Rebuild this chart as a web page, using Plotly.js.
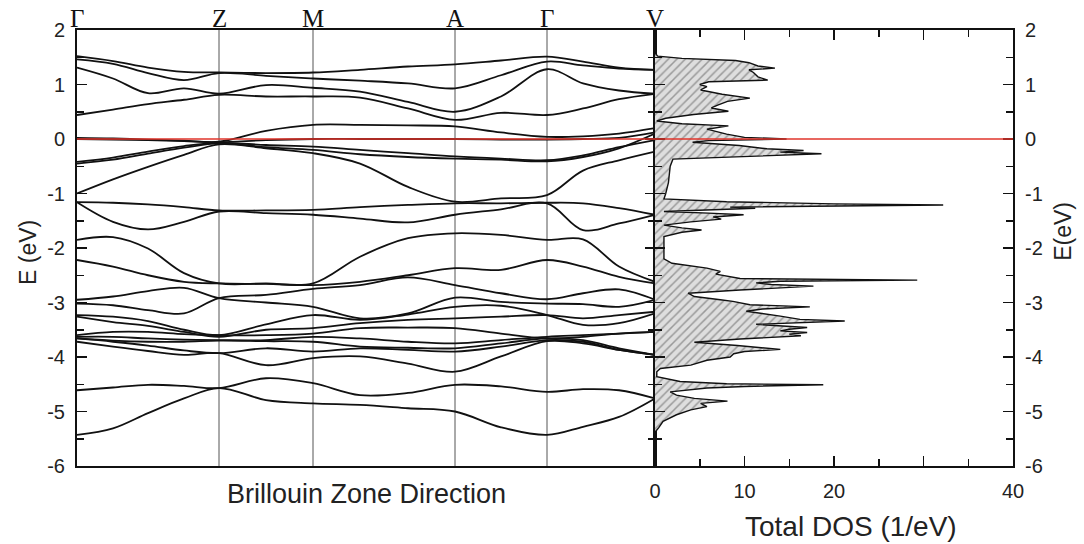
<!DOCTYPE html>
<html><head><meta charset="utf-8">
<script src="https://cdn.plot.ly/plotly-3.0.1.min.js"></script>
<style>html,body{margin:0;padding:0;background:#fff}#chart{width:1084px;height:544px}</style>
</head><body><div id="chart"></div>
<script>
// k-path sample positions (arbitrary k-distance units) and high-symmetry points
const K_PATH = [0, 36, 71, 107, 142, 189, 236, 283, 331, 378, 424, 470, 506, 542, 578];
const K_SYM = [0, 142, 236, 378, 470, 578];
const SYM_LABELS = ['Γ', 'Z', 'M', 'A', 'Γ', 'V'];

// Band energies (eV) read at K_PATH
const band_c1 = [1.52, 1.43, 1.31, 1.23, 1.22, 1.21, 1.22, 1.27, 1.33, 1.37, 1.44, 1.51, 1.42, 1.31, 1.27];
const band_c2 = [1.46, 1.38, 1.21, 1.08, 1.21, 1.16, 1.11, 1.07, 1.02, 0.93, 1.17, 1.42, 1.35, 1.29, 1.27];
const band_c3 = [1.31, 1.11, 0.84, 0.93, 0.83, 0.99, 0.94, 0.87, 0.68, 0.50, 0.78, 1.28, 1.02, 0.89, 0.83];
const band_c4 = [0.44, 0.54, 0.64, 0.72, 0.81, 0.78, 0.78, 0.76, 0.56, 0.35, 0.48, 0.44, 0.56, 0.73, 0.83];
const band_v1 = [0.02, 0.01, -0.01, -0.03, -0.05, 0.15, 0.26, 0.26, 0.25, 0.23, 0.12, 0.04, 0.05, 0.10, 0.20];
const band_v2 = [0.00, -0.01, -0.02, -0.04, -0.06, -0.02, 0.00, 0.00, 0.00, 0.00, -0.01, -0.01, 0.00, 0.02, 0.12];
const band_v3 = [-0.42, -0.34, -0.23, -0.13, -0.07, -0.11, -0.14, -0.20, -0.26, -0.32, -0.36, -0.39, -0.30, -0.15, -0.02];
const band_v4 = [-0.45, -0.38, -0.27, -0.16, -0.08, -0.15, -0.20, -0.28, -0.33, -0.36, -0.38, -0.41, -0.33, -0.17, 0.10];
const band_v5 = [-1.00, -0.74, -0.51, -0.29, -0.10, -0.17, -0.26, -0.45, -0.88, -1.15, -1.09, -1.03, -0.58, -0.39, -0.23];
const band_v6 = [-1.16, -1.17, -1.20, -1.25, -1.31, -1.31, -1.30, -1.25, -1.21, -1.18, -1.18, -1.17, -1.18, -1.27, -1.39];
const band_v7 = [-1.16, -1.52, -1.66, -1.52, -1.33, -1.36, -1.39, -1.46, -1.53, -1.39, -1.29, -1.18, -1.67, -1.55, -1.39];
const band_v8 = [-1.85, -1.80, -2.01, -2.46, -2.65, -2.65, -2.65, -2.16, -1.82, -1.73, -1.76, -1.85, -1.84, -2.34, -2.62];
const band_v9 = [-2.22, -2.34, -2.50, -2.62, -2.65, -2.66, -2.68, -2.62, -2.50, -2.37, -2.40, -2.22, -2.34, -2.53, -2.65];
const band_la = [-2.95, -2.89, -2.79, -2.73, -2.92, -3.00, -3.08, -3.29, -3.20, -2.91, -2.99, -3.02, -3.03, -3.08, -2.95];
const band_lb = [-3.02, -3.05, -3.14, -3.20, -2.92, -2.86, -2.75, -2.68, -2.54, -2.68, -2.83, -2.94, -2.83, -2.76, -2.95];
const band_l3 = [-3.23, -3.26, -3.34, -3.50, -3.60, -3.40, -3.23, -3.32, -3.22, -3.08, -3.06, -3.23, -3.41, -3.38, -3.20];
const band_l4 = [-3.26, -3.36, -3.43, -3.54, -3.63, -3.50, -3.47, -3.38, -3.32, -3.29, -3.26, -3.23, -3.29, -3.23, -3.17];
const band_l5 = [-3.60, -3.54, -3.54, -3.58, -3.60, -3.60, -3.57, -3.47, -3.46, -3.47, -3.57, -3.66, -3.63, -3.57, -3.54];
const band_l6 = [-3.63, -3.63, -3.66, -3.68, -3.69, -3.69, -3.63, -3.66, -3.72, -3.75, -3.69, -3.63, -3.60, -3.57, -3.54];
const band_lg = [-3.66, -3.70, -3.72, -3.72, -3.70, -3.71, -3.72, -3.81, -3.83, -3.84, -3.75, -3.66, -3.69, -3.84, -3.96];
const band_l7 = [-3.66, -3.72, -3.79, -3.88, -3.93, -3.84, -3.90, -3.84, -3.87, -3.90, -3.81, -3.69, -3.72, -3.87, -3.96];
const band_l8 = [-3.72, -3.81, -3.89, -3.96, -3.93, -4.15, -4.02, -3.99, -4.12, -4.27, -3.99, -3.71, -3.75, -3.87, -3.96];
const band_p1 = [-4.61, -4.56, -4.51, -4.53, -4.57, -4.39, -4.48, -4.70, -4.66, -4.51, -4.54, -4.64, -4.59, -4.61, -4.76];
const band_p2 = [-5.43, -5.31, -5.03, -4.76, -4.57, -4.79, -4.85, -4.88, -4.94, -5.00, -5.29, -5.43, -5.28, -5.10, -4.76];

const BANDS = [band_c1, band_c2, band_c3, band_c4, band_v1, band_v2, band_v3, band_v4, band_v5,
  band_v6, band_v7, band_v8, band_v9, band_la, band_lb, band_l3, band_l4, band_l5, band_l6,
  band_lg, band_l7, band_l8, band_p1, band_p2];

// Total DOS (1/eV) vs energy (eV)
const DOS_E = [
  1.58, 1.52, 1.48, 1.44, 1.40, 1.34, 1.30, 1.27, 1.22, 1.14,
  1.08, 1.05, 1.00, 0.96, 0.90, 0.82, 0.75, 0.69, 0.62, 0.57,
  0.51, 0.45, 0.38, 0.33, 0.28, 0.24, 0.18, 0.09, 0.03, 0.00,
  -0.03, -0.06, -0.12, -0.15, -0.18, -0.21, -0.24, -0.27, -0.31, -0.37,
  -0.50, -0.80, -1.00, -1.10, -1.15, -1.19, -1.21, -1.23, -1.25, -1.27,
  -1.30, -1.33, -1.36, -1.39, -1.43, -1.47, -1.52, -1.58, -1.63, -1.67,
  -1.71, -1.79, -2.20, -2.28, -2.37, -2.43, -2.48, -2.52, -2.56, -2.59,
  -2.61, -2.64, -2.67, -2.70, -2.74, -2.77, -2.83, -2.89, -2.95, -2.98,
  -3.04, -3.08, -3.12, -3.16, -3.25, -3.31, -3.34, -3.37, -3.40, -3.46,
  -3.49, -3.52, -3.55, -3.58, -3.61, -3.67, -3.73, -3.79, -3.86, -3.90,
  -3.94, -4.00, -4.06, -4.15, -4.21, -4.27, -4.36, -4.45, -4.49, -4.51,
  -4.54, -4.57, -4.64, -4.70, -4.76, -4.81, -4.85, -4.91, -4.97, -5.06,
  -5.18, -5.30, -5.38];
const DOS_TOTAL = [
  0, 0.3, 3.0, 9.0, 10.5, 11.5, 13.4, 10.5, 11.0, 11.5,
  12.6, 6.0, 5.0, 5.8, 5.1, 7.5, 10.6, 8.1, 7.0, 6.3,
  8.2, 4.3, 1.2, 0.2, 3.0, 8.2, 5.8, 8.0, 10.0, 14.7,
  6.0, 4.2, 9.4, 11.0, 12.5, 16.6, 14.0, 18.6, 12.5, 2.0,
  1.7, 1.5, 1.2, 1.0, 8.0, 20.0, 32.2, 15.0, 8.4, 11.2,
  5.0, 1.0, 6.0, 9.9, 6.5, 7.4, 4.0, 1.0, 3.0, 5.2,
  3.0, 1.0, 1.0, 1.9, 5.8, 7.3, 6.8, 8.0, 9.5, 29.3,
  14.0, 11.3, 13.0, 17.7, 12.0, 9.5, 3.7, 4.4, 7.3, 8.7,
  10.6, 17.3, 12.0, 10.2, 14.0, 16.2, 21.2, 15.0, 11.3, 17.0,
  15.0, 14.0, 17.0, 15.0, 16.3, 9.5, 4.4, 9.2, 14.0, 10.0,
  8.8, 8.4, 5.8, 4.0, 0.6, 0.2, 0.2, 2.8, 8.0, 18.8,
  10.0, 5.8, 1.7, 2.4, 4.4, 8.1, 5.1, 5.8, 4.0, 2.4,
  0.9, 0.4, 0];

// Axis ticks
const E_TICKS = [-6, -5, -4, -3, -2, -1, 0, 1, 2];
const E_TICK_LABELS = ['-6', '-5', '-4', '-3', '-2', '-1', '0', '1', '2'];
const E_MINOR = [-5.5, -4.5, -3.5, -2.5, -1.5, -0.5, 0.5, 1.5];
const DOS_TICKS = [0, 10, 20, 30, 40];
const DOS_TICK_LABELS = ['0', '10', '20', '', '40'];
const DOS_MINOR = [5, 15, 25, 35];

const E_RANGE = [-6, 2];
const DOS_RANGE = [0, 40];

const FONT = 'Liberation Sans, Arial, sans-serif';
const SERIF = 'Liberation Serif, Times New Roman, serif';

const traces = [];
BANDS.forEach(b => traces.push({
  type: 'scatter', mode: 'lines', x: K_PATH, y: b, xaxis: 'x', yaxis: 'y',
  line: {color: '#111', width: 1.8, shape: 'spline', smoothing: 1},
  hoverinfo: 'skip', showlegend: false
}));
traces.push({
  type: 'scatter', mode: 'lines', x: DOS_TOTAL, y: DOS_E, xaxis: 'x2', yaxis: 'y2',
  fill: 'tozerox', fillcolor: '#dcdcdc',
  fillpattern: {shape: '/', bgcolor: '#dedede', fgcolor: '#9a9a9a', size: 6, solidity: 0.25},
  line: {color: '#111', width: 1.4}, hoverinfo: 'skip', showlegend: false
});

const kMax = K_SYM[K_SYM.length - 1];
const shapes = K_SYM.slice(1, -1).map(k => ({
  type: 'line', xref: 'x', yref: 'y', x0: k, x1: k, y0: E_RANGE[0], y1: E_RANGE[1],
  line: {color: '#555', width: 1}, layer: 'below'
}));
shapes.push({type: 'line', xref: 'paper', yref: 'y', x0: 0, x1: 1, y0: 0, y1: 0,
  line: {color: '#e0352b', width: 1.5}, layer: 'above'});

const annotations = K_SYM.map((k, i) => ({
  text: SYM_LABELS[i], x: k, xref: 'x', xanchor: 'center', y: 1, yref: 'paper', yanchor: 'bottom',
  yshift: -4, showarrow: false, font: {family: SERIF, size: 25, color: '#111'}
}));
annotations.push({text: 'Brillouin Zone Direction', x: kMax / 2, xref: 'x', xanchor: 'center',
  y: 0, yref: 'paper', yanchor: 'middle', yshift: -28, showarrow: false,
  font: {family: FONT, size: 27, color: '#222'}});
annotations.push({text: 'Total DOS (1/eV)', x: 21.9, xref: 'x2', xanchor: 'center',
  y: 0, yref: 'paper', yanchor: 'middle', yshift: -60, showarrow: false,
  font: {family: FONT, size: 28, color: '#222'}});
annotations.push({text: 'E (eV)', x: 0, xref: 'paper', xanchor: 'center', xshift: -49,
  y: 0.4885, yref: 'paper', yanchor: 'middle', textangle: -90, showarrow: false,
  font: {family: FONT, size: 23, color: '#222'}});
annotations.push({text: 'E(eV)', x: 1, xref: 'paper', xanchor: 'center', xshift: 50,
  y: 0.537, yref: 'paper', yanchor: 'middle', textangle: -90, showarrow: false,
  font: {family: FONT, size: 23, color: '#222'}});

const split = kMax / 936;
const yCommon = {
  range: E_RANGE, tickmode: 'array', tickvals: E_TICKS, ticktext: E_TICK_LABELS,
  ticks: 'inside', ticklen: 10, tickwidth: 1.5,
  tickcolor: '#111', showline: true, linecolor: '#111', linewidth: 2, mirror: 'ticks',
  showgrid: false, zeroline: false, tickfont: {family: FONT, size: 20, color: '#222'},
  minor: {tickmode: 'array', tickvals: E_MINOR, ticks: 'inside', ticklen: 7, tickwidth: 1.5,
    tickcolor: '#111', showgrid: false},
  ticklabelstandoff: 6
};
const layout = {
  width: 1084, height: 544,
  margin: {l: 77, r: 71, t: 30, b: 78},
  paper_bgcolor: '#fff', plot_bgcolor: '#fff', showlegend: false,
  xaxis: {domain: [0, split], range: [0, kMax], showticklabels: false, ticks: '',
    showline: true, linecolor: '#111', linewidth: 2, mirror: true, showgrid: false, zeroline: false},
  xaxis2: {domain: [split, 1], range: DOS_RANGE, anchor: 'y2', tickmode: 'array',
    tickvals: DOS_TICKS, ticktext: DOS_TICK_LABELS, ticks: 'inside', ticklen: 10, tickwidth: 1.5,
    tickcolor: '#111',
    minor: {tickmode: 'array', tickvals: DOS_MINOR, ticks: 'inside', ticklen: 7, tickwidth: 1.5,
      tickcolor: '#111', showgrid: false},
    showline: true, linecolor: '#111', linewidth: 2, mirror: 'ticks', showgrid: false, zeroline: false,
    tickfont: {family: FONT, size: 20, color: '#222'}, ticklabelstandoff: 6},
  yaxis: Object.assign({anchor: 'x', side: 'left'}, yCommon),
  yaxis2: Object.assign({anchor: 'x2', side: 'right'}, yCommon),
  shapes: shapes, annotations: annotations
};
Plotly.newPlot('chart', traces, layout, {staticPlot: true, displayModeBar: false});
</script></body></html>
